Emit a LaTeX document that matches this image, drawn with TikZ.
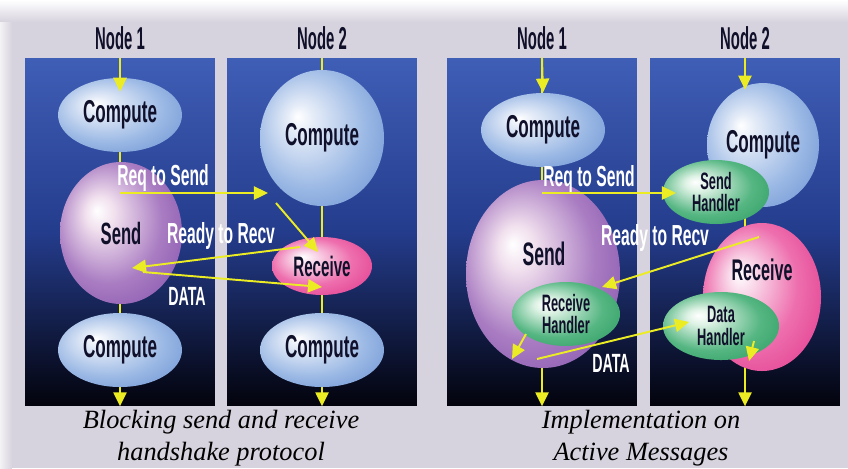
\documentclass[tikz,border=0pt]{standalone}
\usepackage{fontspec}
\setmainfont{Liberation Serif}
\newfontfamily\condfont[FakeStretch=0.54]{Liberation Sans}
\newfontfamily\headfont[FakeStretch=0.47]{Liberation Sans}
\usetikzlibrary{arrows.meta, positioning, shapes.geometric}

\definecolor{bgGray}{HTML}{D7D3DE}
\definecolor{panelTop}{HTML}{3F5EB6}
\definecolor{panelMid}{HTML}{243C8C}
\definecolor{panelBot}{HTML}{03030C}
\definecolor{msgYellow}{HTML}{ECEC24}
\definecolor{inkDark}{HTML}{10102A}
% sphere colours
\definecolor{blueHi}{HTML}{E2EAF7}
\definecolor{blueMid}{HTML}{9DBAE5}
\definecolor{blueEdge}{HTML}{4D7AC8}
\definecolor{purpHi}{HTML}{F1E0EE}
\definecolor{purpMid}{HTML}{A97CC2}
\definecolor{purpEdge}{HTML}{6A389E}
\definecolor{pinkHi}{HTML}{F9D6E8}
\definecolor{pinkMid}{HTML}{EE6FAE}
\definecolor{pinkEdge}{HTML}{DB2680}
\definecolor{grnHi}{HTML}{DDF2E4}
\definecolor{grnMid}{HTML}{55B682}
\definecolor{grnEdge}{HTML}{178E4E}

\pgfdeclareradialshading{blueball}{\pgfpoint{-10bp}{8bp}}{color(0bp)=(white);
  color(6bp)=(blueHi); color(22bp)=(blueMid); color(46bp)=(blueEdge)}
\pgfdeclareradialshading{purpball}{\pgfpoint{-10bp}{8bp}}{color(0bp)=(white);
  color(6bp)=(purpHi); color(22bp)=(purpMid); color(46bp)=(purpEdge)}
\pgfdeclareradialshading{pinkball}{\pgfpoint{-10bp}{8bp}}{color(0bp)=(white);
  color(6bp)=(pinkHi); color(20bp)=(pinkMid); color(42bp)=(pinkEdge)}
\pgfdeclareradialshading{grnball}{\pgfpoint{-10bp}{8bp}}{color(0bp)=(white);
  color(6bp)=(grnHi); color(22bp)=(grnMid); color(44bp)=(grnEdge)}

\begin{document}
\begin{tikzpicture}[x=0.02cm, y=-0.02cm,
    panel/.style={minimum width=3.8cm, minimum height=6.96cm, inner sep=0pt,
                  top color=panelTop, bottom color=panelBot, middle color=panelMid},
    blob/.style n args={3}{ellipse, shade, shading=#1, inner sep=0pt,
                  minimum width=#2*0.02cm, minimum height=#3*0.02cm, align=center,
                  text=inkDark, font=\fontsize{18}{19}\condfont\bfseries},
    hnd/.style={font=\fontsize{13.5}{13}\condfont\bfseries},
    head/.style={font=\fontsize{18}{19}\headfont\bfseries, text=inkDark, inner sep=0pt},
    lbl/.style={font=\fontsize{16.5}{17}\condfont\bfseries, text=white, inner sep=0pt},
    caption/.style={font=\fontsize{15}{18.5}\selectfont\itshape, align=center,
                text=black, inner sep=0pt},
    arr/.style={-{Triangle[length=8pt, width=7.5pt]}, line width=1.1pt, msgYellow}
  ]
  \useasboundingbox (0,0) rectangle (848,468);
  \fill[bgGray] (0,0) rectangle (848,468);
  \shade[top color=white, bottom color=bgGray] (0,0) rectangle (848,22);
  \shade[left color=white!70!bgGray, right color=bgGray] (0,22) rectangle (12,468);

  % panels and their titles
  \node[panel] (pa1) at (120,232) {};
  \node[panel] (pa2) at (322,232) {};
  \node[panel] (pb1) at (542,232) {};
  \node[panel] (pb2) at (745,232) {};
  \node[head, above=4.5pt of pa1] (ta1) {Node 1};
  \node[head, above=4.5pt of pa2] (ta2) {Node 2};
  \node[head, above=4.5pt of pb1] (tb1) {Node 1};
  \node[head, above=4.5pt of pb2] (tb2) {Node 2};

  % control flow down each node
  \draw[arr] (pa1.north) -- (pa1.south);
  \draw[arr] (pa2.north) -- (pa2.south);
  \draw[arr] (pb1.north) -- (pb1.south);
  \draw[arr] (pb2.north) -- (pb2.south);

  % blocking send / receive
  \node[blob={blueball}{124}{74}] (ca1) at (120,115) {Compute};
  \node[blob={purpball}{122}{142}, font=\fontsize{17.5}{19}\condfont\bfseries] (sa) at (121,233) {Send};
  \node[blob={blueball}{124}{74}] (da1) at (120,350) {Compute};
  \node[blob={blueball}{124}{136}] (ca2) at (322,138) {Compute};
  \node[blob={pinkball}{100}{58}, font=\fontsize{16}{17}\condfont\bfseries] (ra) at (322,266) {Receive};
  \node[blob={blueball}{124}{74}] (da2) at (322,350) {Compute};

  % active messages
  \node[blob={blueball}{124}{74}] (cb1) at (543,130) {Compute};
  \node[blob={purpball}{154}{188}] (sb) at (543,274) {};
  \node[blob={grnball}{108}{64}, hnd] (rhb) at (566,314) {Receive\\Handler};
  \node[blob={blueball}{112}{124}] (cb2) at (763,145) {Compute};
  \node[blob={grnball}{106}{64}, hnd] (shb) at (716,192) {Send\\Handler};
  \node[blob={pinkball}{118}{148}] (rb) at (762,297) {};
  \node[blob={grnball}{116}{68}, hnd] (dhb) at (721,326) {Data\\Handler};
  \node[font=\fontsize{18.5}{19}\condfont\bfseries, text=inkDark] (sbt) at (544,254) {Send};
  \node[font=\fontsize{17}{18}\condfont\bfseries, text=inkDark] (rbt) at (762,270) {Receive};

  \draw[arr, shorten >=-8pt] (pa1.north) -- (ca1.north);
  \draw[arr] (pb1.north) -- (cb1.north);
  \draw[arr, shorten >=-4pt] (pb2.north) -- (pb2.north |- cb2.north);

  % messages, handshake
  \coordinate (a1) at (120,193);
  \coordinate (a2) at (268,193);
  \coordinate (a3) at (276,203);
  \coordinate (a4) at (318,252);
  \coordinate (a5) at (300,247);
  \coordinate (a6) at (132,268);
  \coordinate (a7) at (143,272);
  \coordinate (a8) at (322,287);
  \draw[arr] (a1) -- (a2);
  \draw[arr] (a3) -- (a4);
  \draw[arr] (a5) -- (a6);
  \draw[arr] (a7) -- (a8);
  \node[lbl] (la1) at (163,178) {Req to Send};
  \node[lbl] (la2) at (221,236) {Ready to Recv};
  \node[lbl, font=\fontsize{15}{16}\condfont\bfseries] (la3) at (187,296) {DATA};

  % messages, active messages
  \coordinate (b1) at (542,193);
  \coordinate (b2) at (676,193);
  \coordinate (b3) at (759,237);
  \coordinate (b4) at (602,287);
  \coordinate (b5) at (526,334);
  \coordinate (b6) at (512,359);
  \coordinate (b7) at (537,359);
  \coordinate (b8) at (689,322);
  \coordinate (b9) at (754,341);
  \coordinate (b10) at (749,361);
  \draw[arr] (b1) -- (b2);
  \draw[arr] (b3) -- (b4);
  \draw[arr] (b5) -- (b6);
  \draw[arr] (b7) -- (b8);
  \draw[arr] (b9) -- (b10);
  \node[lbl] (lb1) at (589,179) {Req to Send};
  \node[lbl] (lb2) at (655,238) {Ready to Recv};
  \node[lbl, font=\fontsize{15}{16}\condfont\bfseries] (lb3) at (611,363) {DATA};

  % captions
  \node[caption] (capa) at (221,438) {Blocking send and receive\\handshake protocol};
  \node[caption] (capb) at (641,438) {Implementation on\\Active Messages};
\end{tikzpicture}
\end{document}
